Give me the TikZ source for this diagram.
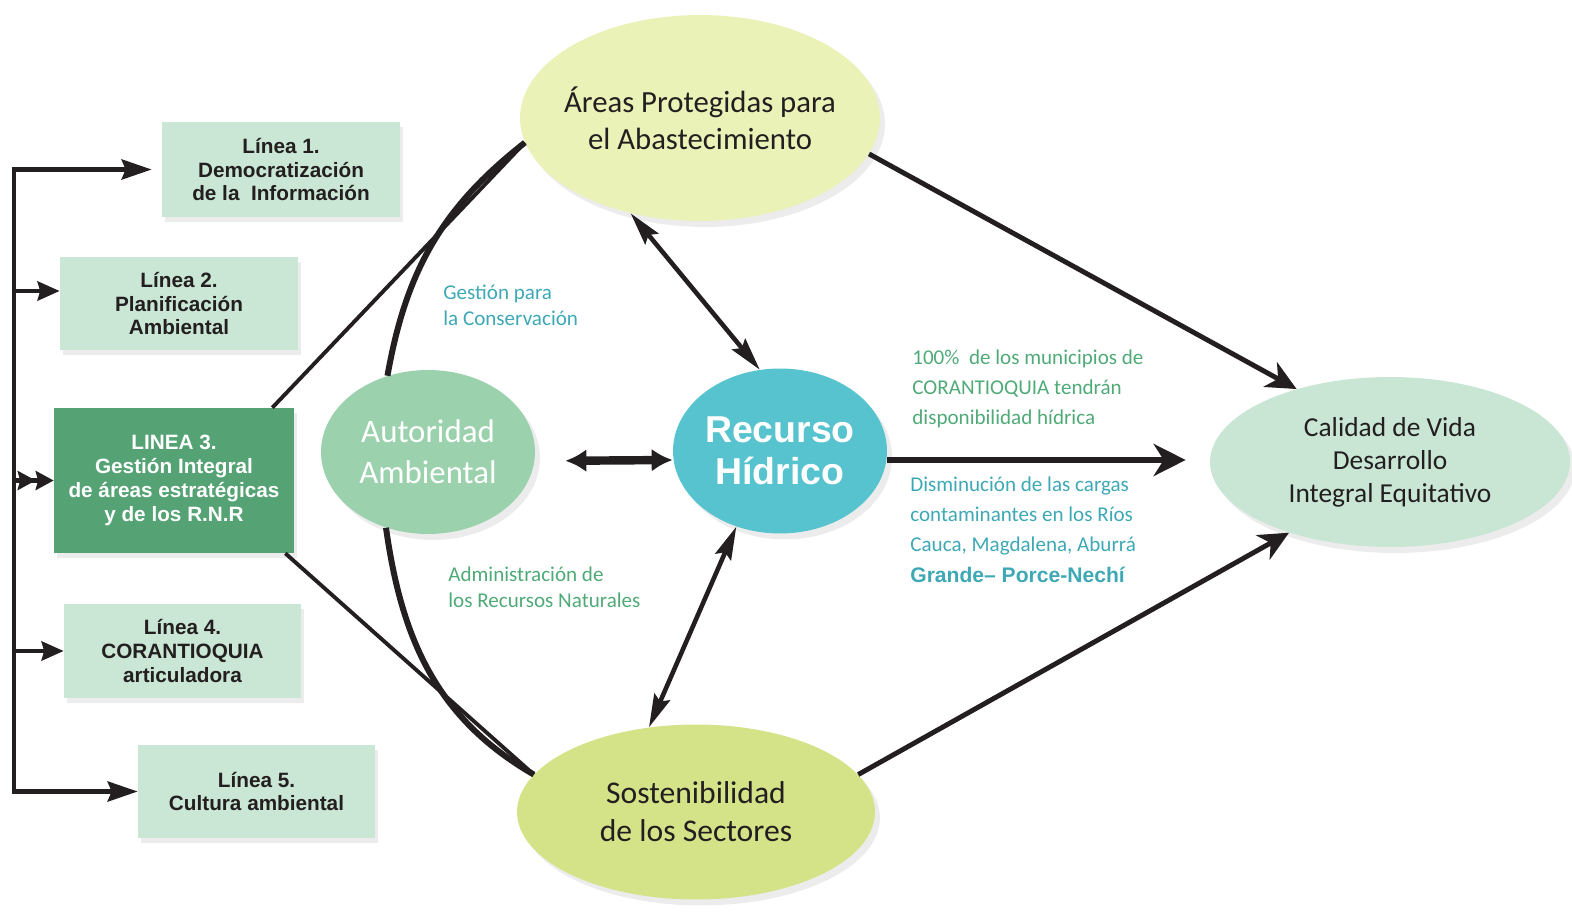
\documentclass[tikz,border=0pt]{standalone}
\usepackage{fontspec}
\setmainfont{Carlito}
\newfontfamily\boxfont{Liberation Sans}
\usetikzlibrary{arrows.meta,shapes.geometric,shadows}

\definecolor{inkdark}{RGB}{35,31,32}
\definecolor{lineagreen}{RGB}{202,230,212}
\definecolor{lineadark}{RGB}{85,163,116}
\definecolor{areasfill}{RGB}{234,242,184}
\definecolor{autfill}{RGB}{155,210,173}
\definecolor{recfill}{RGB}{86,195,206}
\definecolor{sostfill}{RGB}{212,227,136}
\definecolor{calfill}{RGB}{201,230,212}
\definecolor{tealtext}{RGB}{62,168,181}
\definecolor{greentext}{RGB}{80,170,120}

\begin{document}
\begin{tikzpicture}[
  x=0.02cm, y=-0.02cm,
  linea/.style={fill=lineagreen, minimum width=4.76cm, minimum height=1.9cm, align=center, inner sep=2pt,
    text=inkdark, font=\boxfont\bfseries\fontsize{11.8}{13.6}\selectfont,
    drop shadow={opacity=0.15, shadow xshift=0.06cm, shadow yshift=-0.1cm}},
  meta/.style={ellipse, align=center, inner xsep=-0.3cm, inner ysep=0pt, text=inkdark,
    font=\fontsize{17.5}{21}\selectfont,
    drop shadow={opacity=0.15, shadow xshift=0.1cm, shadow yshift=-0.12cm}},
  note/.style={align=left, inner sep=0pt, anchor=west, font=\fontsize{12}{14.7}\selectfont},
  busline/.style={draw=inkdark, line width=2.6pt},
  branch/.style={busline, -{Stealth[length=0.44cm, width=0.38cm, inset=0.05cm]}},
  link/.style={draw=inkdark, line width=2.2pt},
  arc/.style={draw=inkdark, line width=3.4pt},
  toarrow/.style={draw=inkdark, line width=2.8pt, -{Stealth[length=0.6cm, width=0.56cm, inset=0.18cm]}},
  twoway/.style={draw=inkdark, line width=2.6pt,
    {Stealth[length=0.66cm, width=0.34cm, inset=0.1cm]}-{Stealth[length=0.66cm, width=0.34cm, inset=0.1cm]}}
]
\useasboundingbox (0,0) rectangle (1572,916);

% Lineas
\node[linea] (l1) at (281,169.5) {Línea 1.\\Democratización\\de la\ \ Información};
\node[linea, minimum height=1.86cm] (l2) at (179,303.5) {Línea 2.\\Planificación\\Ambiental};
\node[linea, fill=lineadark, text=white, minimum width=4.8cm, minimum height=2.9cm] (l3) at (174,480.5)
  {LINEA 3.\\Gestión Integral\\de áreas estratégicas\\y de los R.N.R};
\node[linea, minimum width=4.74cm, minimum height=1.88cm] (l4) at (182.5,651) {Línea 4.\\CORANTIOQUIA\\articuladora};
\node[linea, minimum width=4.74cm, minimum height=1.86cm] (l5) at (256.5,791.5) {Línea 5.\\Cultura ambiental};

% Areas Protegidas
\node[meta, fill=areasfill, minimum width=7.2cm, minimum height=4.12cm] (areas) at (700,118)
  {Áreas Protegidas para\\el Abastecimiento};

% Autoridad Ambiental
\node[meta, fill=autfill, text=white, minimum width=4.28cm, minimum height=3.28cm,
  font=\fontsize{18.7}{23.3}\selectfont] (autoridad) at (428,452) {Autoridad\\Ambiental};

% Recurso Hidrico
\node[meta, fill=recfill, text=white, minimum width=4.28cm, minimum height=3.3cm,
  font=\boxfont\bfseries\fontsize{21.3}{23.8}\selectfont] (recurso) at (780,451) {Recurso\\Hídrico};

% Sostenibilidad
\node[meta, fill=sostfill, minimum width=7.16cm, minimum height=3.5cm,
  font=\fontsize{18}{21.6}\selectfont] (sost) at (696,812) {Sostenibilidad\\de los Sectores};

% Calidad de Vida
\node[meta, fill=calfill, minimum width=7.2cm, minimum height=3.4cm,
  font=\fontsize{15.6}{18.8}\selectfont] (calidad) at (1390,462) {Calidad de Vida\\Desarrollo\\Integral Equitativo};

% textos
\node[note, text=tealtext] (gestion) at (443,305) {Gestión para\\la Conservación};
\node[note, text=greentext] (admin) at (448,587) {Administración de\\los Recursos Naturales};
\node[note, text=greentext, font=\fontsize{12}{17.2}\selectfont] (meta1) at (912,389)
  {100\%\ \ de los municipios de\\CORANTIOQUIA tendrán\\disponibilidad hídrica};
\node[note, text=tealtext, font=\fontsize{12}{17.2}\selectfont] (meta2) at (910,529.5)
  {Disminución de las cargas\\contaminantes en los Ríos\\Cauca, Magdalena, Aburrá\\{\boxfont\bfseries Grande– Porce-Nechí}};

% bus de las lineas
\coordinate (bus) at (14,0);
\draw[busline, {Stealth[length=0.6cm, width=0.4cm, inset=0.08cm]}-{Stealth[length=0.6cm, width=0.4cm, inset=0.08cm]},
  shorten <=0.2cm] (l1.west) -- (l1.west -| bus) -- (l5.west -| bus) -- (l5.west);
\draw[branch] ([yshift=0.25cm]l2.west -| bus) -- ([yshift=0.25cm]l2.west);
\draw[busline, -{Stealth[length=0.36cm, width=0.38cm, inset=0.05cm] Stealth[length=0.36cm, width=0.38cm, inset=0.05cm]}]
  (l3.west -| bus) -- (l3.west);
\draw[branch] (l4.west -| bus) -- (l4.west);

% linea 3 a las areas y sectores
\draw[link] ([xshift=-0.44cm]l3.north east) -- (areas.188);
\draw[link] ([xshift=-0.18cm]l3.south east) -- (sost.167);
\draw[arc] (autoridad.118) to[out=80, in=218] (areas.188);
\draw[arc] (autoridad.241) to[out=-82, in=150] (sost.167);

% relaciones con el recurso
\draw[twoway] (areas.234) -- (recurso.104);
\draw[twoway] (recurso.240) -- (sost.119);
\draw[draw=inkdark, line width=4.8pt, shorten <=0.6cm,
  {Latex[length=0.42cm, width=0.46cm]}-{Latex[length=0.42cm, width=0.46cm]}]
  ([yshift=-0.18cm]autoridad.east) -- ([yshift=-0.18cm]recurso.west);

% hacia la calidad de vida
\draw[toarrow] (areas.-12) -- (calidad.142);
\draw[toarrow, line width=3.4pt, shorten >=0.48cm, -{Stealth[length=0.64cm, width=0.64cm, inset=0.2cm]}]
  ([yshift=-0.18cm]recurso.east) -- ([yshift=-0.18cm]recurso.east -| calidad.west);
\draw[toarrow] (sost.13.5) -- (calidad.215);

\end{tikzpicture}
\end{document}
